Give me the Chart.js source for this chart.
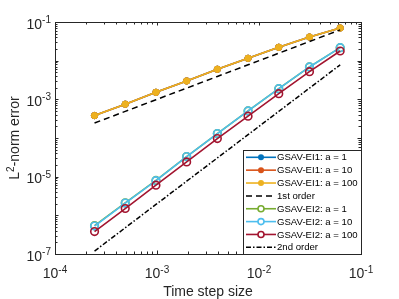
<!DOCTYPE html>
<html><head><meta charset="utf-8">
<script src="https://cdn.jsdelivr.net/npm/chart.js@4/dist/chart.umd.min.js"></script>
<style>html,body{margin:0;padding:0;background:#fff;}#wrap{width:399px;height:299px;}</style>
</head><body><div id="wrap"><canvas id="c" width="399" height="299"></canvas></div>
<script>
// Time step sizes
const stepSizes = [0.000244140625, 0.00048828125, 0.0009765625, 0.001953125, 0.00390625, 0.0078125, 0.015625, 0.03125, 0.0625];
// GSAV-EI1 errors
const ei1_a1   = [3.8e-4, 7.5e-4, 1.52e-3, 2.99e-3, 6.0e-3, 1.15e-2, 2.22e-2, 4.09e-2, 7.0e-2];
const ei1_a10  = [3.8e-4, 7.5e-4, 1.52e-3, 2.99e-3, 6.0e-3, 1.15e-2, 2.22e-2, 4.09e-2, 7.0e-2];
const ei1_a100 = [3.8e-4, 7.5e-4, 1.52e-3, 2.99e-3, 6.0e-3, 1.15e-2, 2.22e-2, 4.09e-2, 7.0e-2];
// reference slopes
const firstOrder  = [2.44e-4, 4.88e-4, 9.77e-4, 1.95e-3, 3.91e-3, 7.81e-3, 1.56e-2, 3.13e-2, 6.25e-2];
const secondOrder = [1.19e-7, 4.77e-7, 1.91e-6, 7.63e-6, 3.05e-5, 1.22e-4, 4.88e-4, 1.95e-3, 7.81e-3];
// GSAV-EI2 errors
const ei2_a1   = [5.4e-7, 2.1e-6, 8.0e-6, 3.3e-5, 1.30e-4, 5.0e-4, 1.89e-3, 6.9e-3, 2.17e-2];
const ei2_a10  = [5.26e-7, 2.07e-6, 7.9e-6, 3.3e-5, 1.30e-4, 5.0e-4, 1.89e-3, 6.87e-3, 2.17e-2];
const ei2_a100 = [3.81e-7, 1.50e-6, 6.03e-6, 2.41e-5, 9.64e-5, 3.66e-4, 1.40e-3, 5.2e-3, 1.78e-2];

const labels = ['GSAV-EI1: a = 1','GSAV-EI1: a = 10','GSAV-EI1: a = 100','1st order','GSAV-EI2: a = 1','GSAV-EI2: a = 10','GSAV-EI2: a = 100','2nd order'];
const xTicks = [1e-4, 1e-3, 1e-2, 1e-1];
const yTicks = [1e-7, 1e-5, 1e-3, 1e-1];

const AX = '#262626';
function pts(ys){ return stepSizes.map((x,i)=>({x:x,y:ys[i]})); }
function ds(i, ys, color, kind){
  const d = {label:labels[i], data:pts(ys), borderColor:color, backgroundColor:color, borderWidth:1.6, order:20-i, fill:false, tension:0};
  if(kind==='filled'){ d.pointRadius=3.2; d.pointStyle='circle'; d.pointBackgroundColor=color; d.pointBorderColor=color; d.pointBorderWidth=1; }
  else if(kind==='open'){ d.pointRadius=3.8; d.pointStyle='circle'; d.pointBackgroundColor='rgba(0,0,0,0)'; d.pointBorderColor=color; d.pointBorderWidth=1.6; }
  else { d.pointRadius=0; d.borderDash = kind==='dash' ? [6,4] : [5,2,1.5,2]; d.borderWidth=1.5; }
  d._kind = kind;
  return d;
}
const datasets = [
  ds(0, ei1_a1, '#0072BD','filled'),
  ds(1, ei1_a10, '#D95319','filled'),
  ds(2, ei1_a100, '#EDB120','filled'),
  ds(3, firstOrder, '#000000','dash'),
  ds(4, ei2_a1, '#77AC30','open'),
  ds(5, ei2_a10, '#4DBEEE','open'),
  ds(6, ei2_a100, '#A2142F','open'),
  ds(7, secondOrder, '#000000','dashdot')
];

const FONT = '"Liberation Sans", Arial, Helvetica, sans-serif';

function drawPow(ctx, exp, x, y, align){
  ctx.font = '14px ' + FONT;
  const bw = ctx.measureText('10').width;
  ctx.font = '10px ' + FONT;
  const ew = ctx.measureText(exp).width;
  const total = bw + ew;
  let left = align==='right' ? x - total : x - total/2;
  ctx.textAlign='left'; ctx.textBaseline='alphabetic';
  ctx.font = '14px ' + FONT;
  ctx.fillText('10', left, y);
  ctx.font = '10px ' + FONT;
  ctx.fillText(exp, left + bw, y - 5.5);
}

const axesPlugin = {
  id:'axesPlugin',
  beforeDatasetsDraw(chart){
    const ctx = chart.ctx, a = chart.chartArea;
    ctx.save(); ctx.fillStyle='#fff'; ctx.fillRect(a.left,a.top,a.right-a.left,a.bottom-a.top); ctx.restore();
  },
  afterDatasetsDraw(chart){
    const ctx = chart.ctx, a = chart.chartArea, xs = chart.scales.x, ys = chart.scales.y;
    ctx.save();
    ctx.strokeStyle = AX; ctx.lineWidth = 1;
    ctx.beginPath();
    for(let e=-4;e<=-1;e++){
      for(let m=1;m<=9;m++){
        const v = m*Math.pow(10,e); if(v>0.1000001) break;
        const px = Math.round(xs.getPixelForValue(v))+0.5;
        const L = m===1?3.5:2.5;
        ctx.moveTo(px,a.bottom); ctx.lineTo(px,a.bottom-L);
        ctx.moveTo(px,a.top); ctx.lineTo(px,a.top+L);
      }
    }
    for(let e=-7;e<=-1;e++){
      for(let m=1;m<=9;m++){
        const v = m*Math.pow(10,e); if(v>0.1000001) break;
        const py = Math.round(ys.getPixelForValue(v))+0.5;
        const L = m===1?3.5:2.5;
        ctx.moveTo(a.left,py); ctx.lineTo(a.left+L,py);
        ctx.moveTo(a.right,py); ctx.lineTo(a.right-L,py);
      }
    }
    ctx.stroke();
    ctx.lineWidth=1;
    ctx.strokeRect(Math.round(a.left)+0.5, Math.round(a.top)+0.5, Math.round(a.right-a.left), Math.round(a.bottom-a.top));
    ctx.fillStyle = AX;
    xTicks.forEach(v=>{
      const px = xs.getPixelForValue(v);
      drawPow(ctx, String(Math.round(Math.log10(v))), px, a.bottom+24, 'center');
    });
    yTicks.forEach(v=>{
      const py = ys.getPixelForValue(v);
      drawPow(ctx, String(Math.round(Math.log10(v))), a.left-4, py+6.5, 'right');
    });
    ctx.font = '14px ' + FONT; ctx.textAlign='center'; ctx.textBaseline='alphabetic';
    ctx.fillText('Time step size', (a.left+a.right)/2, 296);
    ctx.save();
    ctx.translate(19, (a.top+a.bottom)/2);
    ctx.rotate(-Math.PI/2);
    ctx.font='14px '+FONT; const w1=ctx.measureText('L').width, w3=ctx.measureText('-norm error').width;
    ctx.font='10px '+FONT; const w2=ctx.measureText('2').width;
    let sx = -(w1+w2+w3)/2;
    ctx.textAlign='left';
    ctx.font='14px '+FONT; ctx.fillText('L', sx, 0);
    ctx.font='10px '+FONT; ctx.fillText('2', sx+w1, -5.5);
    ctx.font='14px '+FONT; ctx.fillText('-norm error', sx+w1+w2, 0);
    ctx.restore();
    const lx0 = 243.5, ly0 = 150.5, lx1 = Math.round(a.right)+0.5, ly1 = Math.round(a.bottom)+0.5;
    ctx.fillStyle='#fff'; ctx.fillRect(lx0,ly0,lx1-lx0,ly1-ly0);
    ctx.strokeStyle=AX; ctx.lineWidth=1; ctx.strokeRect(lx0,ly0,lx1-lx0,ly1-ly0);
    chart.data.datasets.forEach((d,i)=>{
      const cy = 157.3 + i*12.86;
      ctx.save();
      ctx.strokeStyle=d.borderColor; ctx.lineWidth=d.borderWidth;
      ctx.setLineDash(d.borderDash||[]);
      ctx.beginPath(); ctx.moveTo(246,cy); ctx.lineTo(276,cy); ctx.stroke();
      ctx.setLineDash([]);
      if(d._kind==='filled'){ ctx.fillStyle=d.borderColor; ctx.beginPath(); ctx.arc(261,cy,3,0,Math.PI*2); ctx.fill(); }
      if(d._kind==='open'){ ctx.fillStyle='#fff'; ctx.beginPath(); ctx.arc(261,cy,3,0,Math.PI*2); ctx.fill(); ctx.stroke(); }
      ctx.restore();
      ctx.fillStyle='#000'; ctx.font='9.6px '+FONT; ctx.textAlign='left'; ctx.textBaseline='middle';
      ctx.fillText(d.label, 277, cy+0.5);
    });
    ctx.restore();
  }
};

new Chart(document.getElementById('c'), {
  type:'line',
  data:{datasets:datasets},
  options:{
    responsive:false, animation:false, devicePixelRatio:1,
    layout:{padding:{left:55, top:22, right:38, bottom:45}},
    plugins:{legend:{display:false}, tooltip:{enabled:false}},
    scales:{
      x:{type:'logarithmic', min:1e-4, max:1e-1, display:false},
      y:{type:'logarithmic', min:1e-7, max:1e-1, display:false}
    }
  },
  plugins:[axesPlugin]
});
</script>
</body></html>
